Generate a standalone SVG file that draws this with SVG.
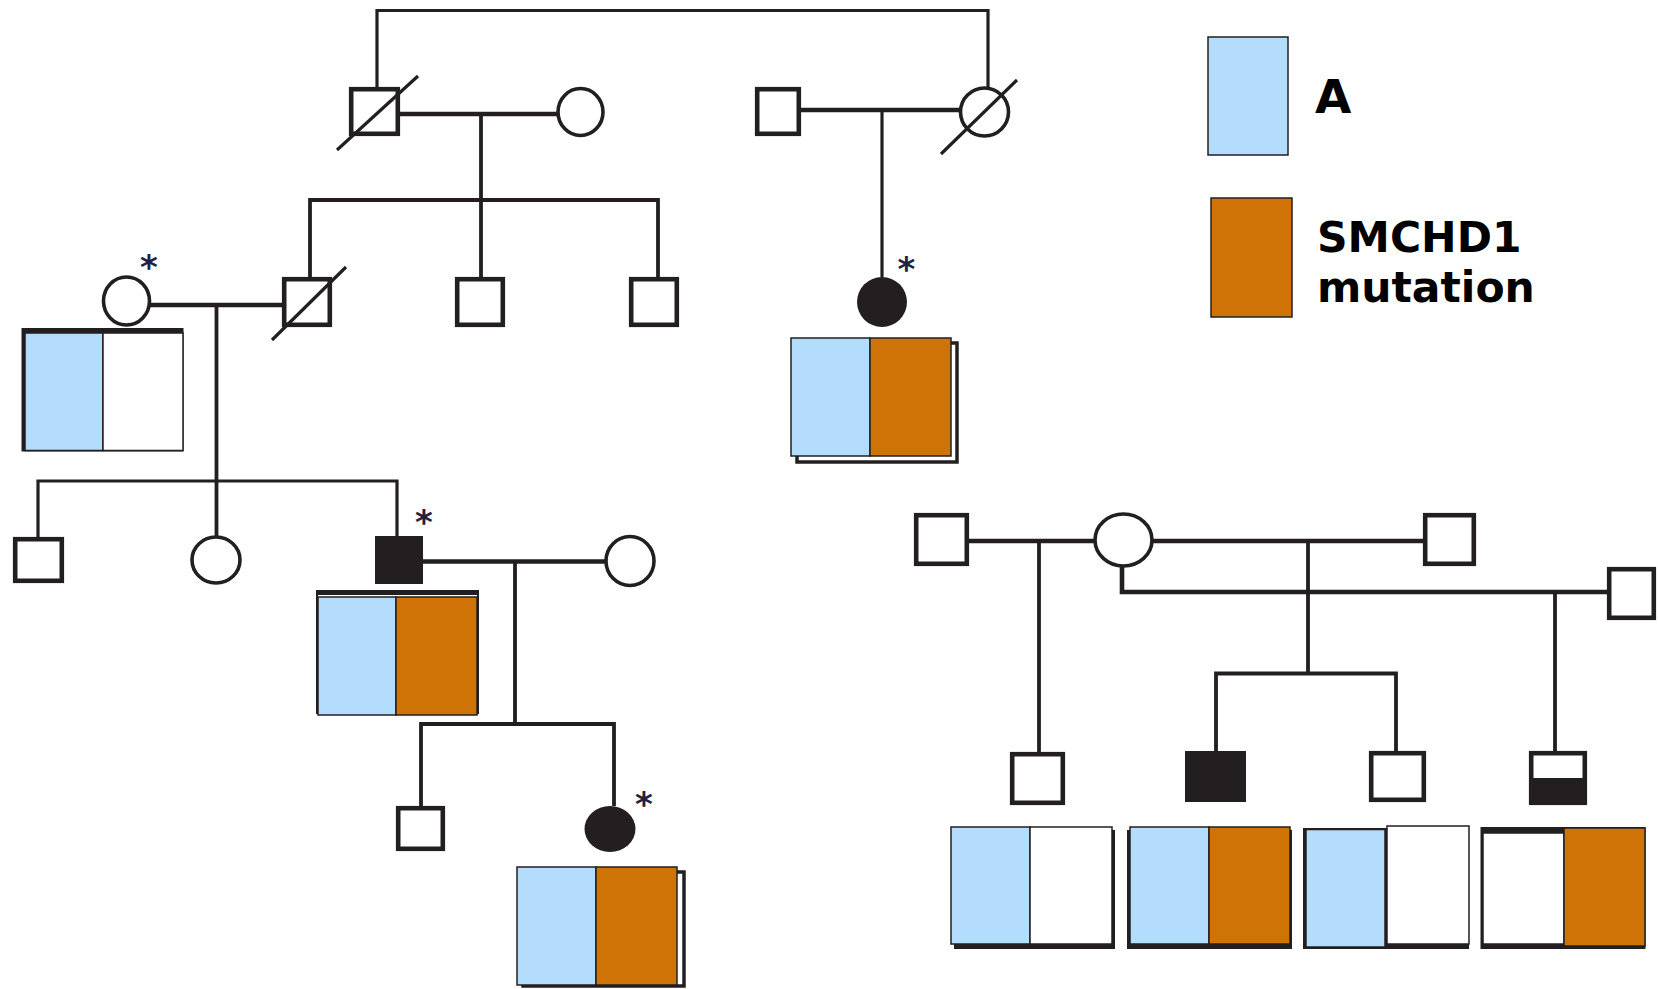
<svg xmlns="http://www.w3.org/2000/svg" width="1658" height="989" viewBox="0 0 1658 989">
<style>
.ln{fill:none;stroke:#231f20;stroke-width:3.8;stroke-linecap:butt}
.thin{stroke-width:3.2}
.mar{stroke-width:4.6}
.sq{fill:#fff;stroke:#231f20;stroke-width:4.6}
.ci{fill:#fff;stroke:#231f20;stroke-width:3.6}
.aff{fill:#231f20}
.dec{stroke:#231f20;stroke-width:3.2;fill:none}
.bl{fill:#b3dcfd;stroke:#231f20;stroke-width:1.5}
.or{fill:#cf7306;stroke:#231f20;stroke-width:1.5}
.wh{fill:#fff;stroke:#231f20;stroke-width:1.5}
.sh{fill:#231f20}
.sho{fill:#fff;stroke:#231f20;stroke-width:3.5}
.star{font-family:"DejaVu Sans",sans-serif;font-weight:bold;font-size:34px;fill:#1f2240;text-anchor:middle}
.lg{font-family:"DejaVu Sans",sans-serif;font-weight:bold;fill:#000}
</style>
<rect width="1658" height="989" fill="#fff"/>
<g id="connectors">
<path class="ln thin" d="M377 88V10.5H988V89"/>
<path class="ln mar" d="M400 114H558"/>
<path class="ln mar" d="M801 110H960"/>
<path class="ln" d="M481 114V277M310 277V200H658V277"/>
<path class="ln thin" d="M882 110V277"/>
<path class="ln mar" d="M150 305H282"/>
<path class="ln" d="M216.5 305V536"/>
<path class="ln thin" d="M38 537V481H397V536"/>
<path class="ln mar" d="M423 561.5H606"/>
<path class="ln" d="M515 561.5V724M421 806V724H614V806"/>
<path class="ln mar" d="M969 541H1095M1152 541H1423"/>
<path class="ln" d="M1039 541V752"/>
<path class="ln" d="M1308 541V673.5M1216 751V673.5H1396V751"/>
<path class="ln mar" d="M1122 566V592H1607"/>
<path class="ln" d="M1555 592V751"/>
</g>
<g id="I-1"><rect class="sq" x="351.2" y="89.2" width="46.6" height="44.6"/><line class="dec" x1="337" y1="150" x2="418" y2="76"/></g>
<g id="I-2"><ellipse class="ci" cx="580.5" cy="112" rx="22.5" ry="23.5"/></g>
<g id="I-3"><rect class="sq" x="757.2" y="89.2" width="41.6" height="44.6"/></g>
<g id="I-4"><ellipse class="ci" cx="984.5" cy="112" rx="24" ry="24"/><line class="dec" x1="941" y1="154" x2="1017" y2="80"/></g>
<g id="II-1">
<ellipse class="ci" cx="126.5" cy="301" rx="23" ry="24"/>
<text class="star" x="149" y="279">*</text>
<rect class="sh" x="21.5" y="328" width="162" height="123.5"/>
<rect class="bl" x="25" y="333" width="78" height="117.5"/>
<rect class="wh" x="103" y="333" width="80" height="117.5"/>
</g>
<g id="II-2"><rect class="sq" x="284.2" y="279.2" width="45.6" height="45.6"/><line class="dec" x1="272" y1="340" x2="346" y2="267"/></g>
<g id="II-3"><rect class="sq" x="457.2" y="279.2" width="45.6" height="45.6"/></g>
<g id="II-4"><rect class="sq" x="631.2" y="279.2" width="45.6" height="45.6"/></g>
<g id="II-5">
<ellipse class="aff" cx="882" cy="302" rx="25" ry="25"/>
<text class="star" x="906.5" y="281">*</text>
<rect class="sho" x="797" y="343" width="160" height="119"/>
<rect class="bl" x="791" y="338" width="79" height="118"/>
<rect class="or" x="870" y="338" width="81" height="118"/>
</g>
<g id="III-1"><rect class="sq" x="15.2" y="539.2" width="46.6" height="41.6"/></g>
<g id="III-2"><ellipse class="ci" cx="216" cy="560" rx="24" ry="23"/></g>
<g id="III-3">
<rect class="aff" x="375" y="536" width="48" height="48"/>
<text class="star" x="424" y="534">*</text>
<rect class="sh" x="316" y="590" width="163" height="124"/>
<rect fill="#fff" x="318" y="595" width="159" height="2"/>
<rect class="bl" x="318" y="597" width="78" height="118"/>
<rect class="or" x="396" y="597" width="81" height="118"/>
</g>
<g id="III-4"><ellipse class="ci" cx="630" cy="561" rx="24" ry="24.5"/></g>
<g id="IV-1"><rect class="sq" x="398.2" y="808.2" width="44.6" height="40.6"/></g>
<g id="IV-2">
<ellipse class="aff" cx="610" cy="829" rx="25.5" ry="23"/>
<text class="star" x="644" y="816">*</text>
<rect class="sho" x="523" y="872" width="161" height="114"/>
<rect class="bl" x="517" y="867" width="79" height="118"/>
<rect class="or" x="596" y="867" width="81" height="118"/>
</g>
<g id="R-1"><rect class="sq" x="916.2" y="515.2" width="50.6" height="48.6"/></g>
<g id="R-2"><ellipse class="ci" cx="1123.5" cy="540" rx="28.5" ry="26"/></g>
<g id="R-3"><rect class="sq" x="1425.2" y="515.2" width="48.6" height="48.6"/></g>
<g id="R-4"><rect class="sq" x="1609.2" y="569.2" width="44.6" height="48.6"/></g>
<g id="RC-1">
<rect class="sq" x="1012.2" y="754.2" width="50.6" height="48.6"/>
<rect class="sh" x="954" y="830" width="161" height="119"/>
<rect class="bl" x="951" y="827" width="79" height="117"/>
<rect class="wh" x="1030" y="827" width="82" height="117"/>
</g>
<g id="RC-2">
<rect class="aff" x="1185" y="751" width="61" height="51"/>
<rect class="sh" x="1127" y="830" width="165" height="119"/>
<rect class="bl" x="1130" y="827" width="79" height="117"/>
<rect class="or" x="1209" y="827" width="81" height="117"/>
</g>
<g id="RC-3">
<rect class="sq" x="1371.2" y="753.2" width="52.6" height="46.6"/>
<rect class="sh" x="1303" y="828" width="166" height="121"/>
<rect class="bl" x="1306" y="829.5" width="79" height="117.5"/>
<rect class="wh" x="1387" y="826" width="82" height="118"/>
</g>
<g id="RC-4">
<rect class="sq" x="1531.2" y="753.2" width="53.6" height="49.6"/>
<rect class="aff" x="1529" y="778" width="58" height="27"/>
<rect class="sh" x="1480.5" y="827" width="165" height="122"/>
<rect class="wh" x="1483" y="833" width="81" height="111"/>
<rect class="or" x="1564" y="828" width="81" height="118"/>
</g>
<g id="legend">
<rect class="bl" x="1208" y="37" width="80" height="118"/>
<text class="lg" x="1315" y="113" font-size="47">A</text>
<rect class="or" x="1211" y="198" width="81" height="119"/>
<text class="lg" x="1317" y="252" font-size="42.5">SMCHD1</text>
<text class="lg" x="1317" y="302" font-size="42.5">mutation</text>
</g>
</svg>
